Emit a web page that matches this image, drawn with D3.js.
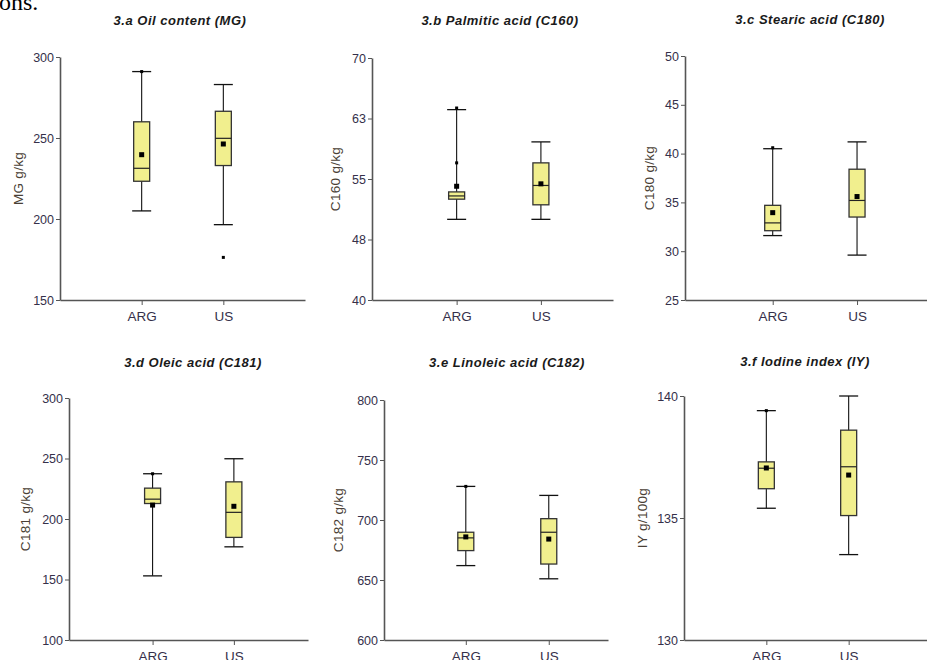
<!DOCTYPE html>
<html lang="en">
  <head>
    <meta charset="UTF-8">
    <title>Boxplots ARG vs US</title>
    <style>
body{
    margin: 0;
    background: #fff;
}
svg{
    display: block;
    font-family: "Liberation Sans", Arial, sans-serif;
}
.tick text{
    fill: #35304a;
    font-size: 12.5px;
}
.domain, .tick line{
    stroke: #555;
}
    </style>
  </head>
  <body>
    <script src="https://cdn.jsdelivr.net/npm/d3@7"></script>
    <script>
var width = 927, height = 660;

// categories + per-panel values, [ARG, US]
var categories = ["ARG", "US"];
var titles = ["3.a Oil content (MG)", "3.b Palmitic acid (C160)", "3.c Stearic acid (C180)",
              "3.d Oleic acid (C181)", "3.e Linoleic acid (C182)", "3.f Iodine index (IY)"];
var yLabels = ["MG g/kg", "C160 g/kg", "C180 g/kg", "C181 g/kg", "C182 g/kg", "IY g/100g"];
var yDomains = [[150, 300], [40, 70], [25, 50], [100, 300], [600, 800], [130, 140]];
var yTicks = [[150, 200, 250, 300], [40, 47.5, 55, 62.5, 70], [25, 30, 35, 40, 45, 50],
              [100, 150, 200, 250, 300], [600, 650, 700, 750, 800], [130, 135, 140]];

var whiskerLow  = [[205, 196.5], [50, 50], [31.6, 29.6], [153, 177], [662, 651], [135.4, 133.5]];
var q1          = [[223.3, 233], [52.5, 51.8], [32.1, 33.5], [212.8, 184.8], [674.5, 663.3], [136.2, 135.1]];
var medians     = [[231.3, 249.8], [52.9, 54.2], [32.9, 35.2], [216.4, 205.5], [685.1, 689.8], [137.04, 137.1]];
var q3          = [[260, 266.5], [53.4, 57], [34.7, 38.4], [225.5, 230.7], [689.8, 701.1], [137.3, 138.6]];
var whiskerHigh = [[291, 283], [63.6, 59.6], [40.5, 41.2], [237.4, 249.8], [728, 720.5], [139.4, 140]];
var means       = [[239.7, 246.3], [54.1, 54.4], [33.95, 35.6], [211.5, 210.5], [685.9, 684.1], [137.05, 136.76]];
var extraPoints = [[[291], [176.3]], [[63.8, 57], []], [[40.6], []], [[237.4], []], [[728], []], [[139.4], []]];

// panel frames: x0, x1, yTop, yBottom, padding, align, title x/y, ylabel x
var frames = [
    {x0: 60,  x1: 305, top: 57,  bot: 300, pad: 1,    align: 0.5,  tx: 180, ty: 25,  lx: 18},
    {x0: 372, x1: 613, top: 58,  bot: 300, pad: 0.93, align: 0.54, tx: 500, ty: 25,  lx: 335},
    {x0: 685, x1: 938, top: 56,  bot: 300, pad: 1,    align: 0.52, tx: 810, ty: 24,  lx: 649},
    {x0: 69,  x1: 308, top: 398, bot: 640, pad: 0.97, align: 0.53, tx: 193, ty: 367, lx: 25},
    {x0: 384, x1: 608, top: 400, bot: 640, pad: 0.85, align: 0.58, tx: 507, ty: 367, lx: 338},
    {x0: 684, x1: 931, top: 396, bot: 640, pad: 1,    align: 0.5,  tx: 805, ty: 366, lx: 642}
];

var svg = d3.select("body").append("svg")
                .attr("width", width)
                .attr("height", height);

// tail of the paper text above the figure
svg.append("text")
   .attr("x", -1)
   .attr("y", 10)
   .attr("font-family", "Liberation Serif, Times New Roman, serif")
   .attr("font-size", 24)
   .attr("fill", "#000")
   .text("ons.");

function drawPanel(i){
    var f = frames[i];
    var x = d3.scalePoint().domain(categories).range([f.x0, f.x1]).padding(f.pad).align(f.align);
    var y = d3.scaleLinear().domain(yDomains[i]).range([f.bot, f.top]);
    var g = svg.append("g");

    g.append("g")
     .attr("transform", "translate(" + f.x0 + ",0)")
     .call(d3.axisLeft(y).tickValues(yTicks[i]).tickSizeInner(4).tickSizeOuter(0).tickPadding(2)
             .tickFormat(function(d){ return Math.round(d); }))
     .call(function(a){ a.select(".domain").attr("stroke-width", 1.6); });

    g.append("g")
     .attr("transform", "translate(0," + f.bot + ")")
     .call(d3.axisBottom(x).tickSizeInner(5).tickSizeOuter(0).tickPadding(6))
     .call(function(a){
         a.select(".domain").attr("stroke-width", 1.6);
         a.selectAll(".tick text").style("font-size", "13.5px");
     });

    g.append("text")
     .attr("x", f.tx)
     .attr("y", f.ty)
     .attr("text-anchor", "middle")
     .attr("font-size", 13)
     .attr("letter-spacing", 0.5)
     .attr("font-weight", "bold")
     .attr("font-style", "italic")
     .attr("fill", "#1a1a1a")
     .text(titles[i]);

    var my = (f.top + f.bot) / 2;
    g.append("text")
     .attr("transform", "translate(" + f.lx + "," + my + ") rotate(-90)")
     .attr("text-anchor", "middle")
     .attr("dy", "0.35em")
     .attr("font-size", 13.5)
     .attr("letter-spacing", 0.3)
     .attr("fill", "#4a3f36")
     .text(yLabels[i]);

    var bw = 16, cw = 19;
    categories.forEach(function(c, j){
        var cx = x(c);
        // whisker
        g.append("line")
         .attr("x1", cx).attr("x2", cx)
         .attr("y1", y(whiskerLow[i][j])).attr("y2", y(whiskerHigh[i][j]))
         .attr("stroke", "#111").attr("stroke-width", 1.1);
        [whiskerLow[i][j], whiskerHigh[i][j]].forEach(function(v){
            g.append("line")
             .attr("x1", cx - cw / 2).attr("x2", cx + cw / 2)
             .attr("y1", y(v)).attr("y2", y(v))
             .attr("stroke", "#111").attr("stroke-width", 1.3);
        });
        // box
        g.append("rect")
         .attr("x", cx - bw / 2)
         .attr("y", y(q3[i][j]))
         .attr("width", bw)
         .attr("height", y(q1[i][j]) - y(q3[i][j]))
         .attr("fill", "#f1ef8e")
         .attr("stroke", "#333")
         .attr("stroke-width", 1.3);
        g.append("line")
         .attr("x1", cx - bw / 2).attr("x2", cx + bw / 2)
         .attr("y1", y(medians[i][j])).attr("y2", y(medians[i][j]))
         .attr("stroke", "#222").attr("stroke-width", 1.2);
        // extra points
        extraPoints[i][j].forEach(function(v){
            g.append("rect")
             .attr("x", cx - 1.5).attr("y", y(v) - 1.5)
             .attr("width", 3).attr("height", 3)
             .attr("fill", "#000");
        });
        // mean
        g.append("rect")
         .attr("x", cx - 2.5).attr("y", y(means[i][j]) - 2.5)
         .attr("width", 5).attr("height", 5)
         .attr("fill", "#000");
    });
}

for(var i = 0; i < titles.length; i++){
    drawPanel(i);
}
    </script>
  </body>
</html>
